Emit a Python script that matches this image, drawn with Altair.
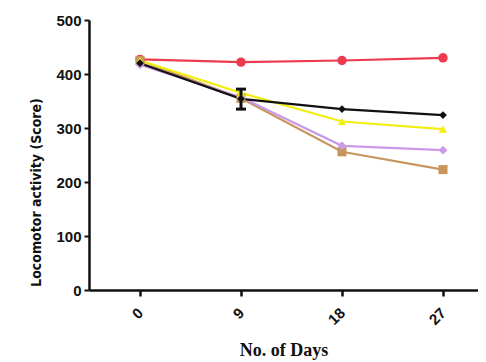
import altair as alt
import pandas as pd

days = [0, 9, 18, 27]
series_names = ["Red", "Tan", "Lilac", "Yellow", "Black"]
red_vals = [427, 422, 425, 430]
tan_vals = [425, 355, 256, 223]
lilac_vals = [417, 357, 267, 259]
yellow_vals = [425, 365, 312, 298]
black_vals = [420, 354, 335, 324]
series_colors = ["#ee3a4e", "#c8965c", "#c99ae8", "#f2ee10", "#111111"]
series_shapes = ["circle", "square", "diamond", "triangle-up", "diamond"]
series_sizes = [90, 60, 80, 60, 25]
err_day = [9]
err_low = [335]
err_high = [372]

rows = []
for name, vals in zip(series_names, [red_vals, tan_vals, lilac_vals, yellow_vals, black_vals]):
    for d, v in zip(days, vals):
        rows.append({"day": d, "value": v, "series": name})
df = pd.DataFrame(rows)

xscale = alt.Scale(domain=[-4.545, 30.12], nice=False, zero=False)
yscale = alt.Scale(domain=[0, 500], nice=False)

xaxis = alt.Axis(
    values=days, labelAngle=-45, labelAlign="right", labelBaseline="middle",
    labelFont="Liberation Sans", labelFontWeight="bold", labelFontSize=15,
    labelColor="#111", labelPadding=14, tickSize=6, tickWidth=2.5, tickColor="#111",
    domainColor="#111", domainWidth=2.5, grid=False,
    title="No. of Days", titleFont="Liberation Serif", titleFontSize=18,
    titleFontWeight="bold", titleColor="#111", titlePadding=14,
)
yaxis = alt.Axis(
    values=[0, 100, 200, 300, 400, 500], labelFont="Liberation Sans", labelFontWeight="bold",
    labelFontSize=15, labelColor="#111", labelPadding=3, tickSize=5, tickWidth=2,
    tickColor="#111", domainColor="#111", domainWidth=2.5, grid=False,
    title="Locomotor activity (Score)", titleFont="DejaVu Sans Condensed",
    titleFontSize=14, titleFontWeight="bold", titleColor="#111", titlePadding=12,
    titleY=172,
)

X = alt.X("day:Q", scale=xscale, axis=xaxis)
Y = alt.Y("value:Q", scale=yscale, axis=yaxis)
color = alt.Color("series:N", scale=alt.Scale(domain=series_names, range=series_colors), legend=None)
base = alt.Chart(df)
lines = base.mark_line(strokeWidth=2.2).encode(
    x=X, y=Y, color=color,
    order=alt.Order("day:Q"),
)
pts = base.mark_point(filled=True, opacity=1).encode(
    x=X, y=Y, color=color,
    shape=alt.Shape("series:N", scale=alt.Scale(domain=series_names, range=series_shapes), legend=None),
    size=alt.Size("series:N", scale=alt.Scale(domain=series_names, range=series_sizes), legend=None),
)

edf = pd.DataFrame({"day": err_day, "low": err_low, "high": err_high})
ebase = alt.Chart(edf)
rule = ebase.mark_rule(color="#111", strokeWidth=3).encode(
    x=X, y=alt.Y("low:Q", scale=yscale, axis=yaxis), y2="high:Q")
cap1 = ebase.mark_tick(color="#111", orient="horizontal", size=10, thickness=3, opacity=1).encode(
    x=X, y=alt.Y("low:Q", scale=yscale, axis=yaxis))
cap2 = ebase.mark_tick(color="#111", orient="horizontal", size=10, thickness=3, opacity=1).encode(
    x=X, y=alt.Y("high:Q", scale=yscale, axis=yaxis))

chart = alt.layer(lines, pts, rule, cap1, cap2).properties(
    width=389, height=270,
    background="white",
    autosize=alt.AutoSizeParams(type="none"),
    padding={"left": 81, "top": 12, "right": 0, "bottom": 72},
).configure_view(stroke=None)

chart.save("out.html", embed_options={"renderer": "svg", "actions": False})
